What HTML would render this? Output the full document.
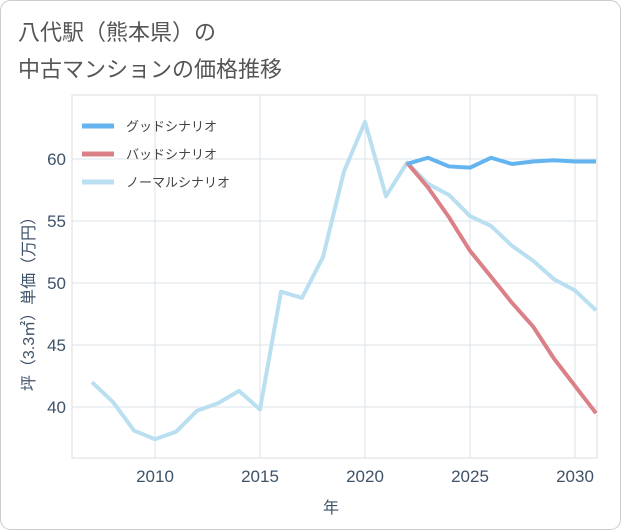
<!DOCTYPE html>
<html><head><meta charset="utf-8"><style>
body{margin:0;background:#fff;}
svg{display:block;font-family:"Liberation Sans","Noto Sans CJK JP",sans-serif;}
</style></head><body>
<svg id="c" width="621" height="530" viewBox="0 0 621 530">
<rect x="0.5" y="0.5" width="620" height="529" rx="10" fill="#fff" stroke="#ccc"/>
<text x="18" y="40" font-size="22" fill="#555">八代駅（熊本県）の</text>
<text x="18" y="77" font-size="22" fill="#555">中古マンションの価格推移</text>
<g id="grid"></g>
<g id="lines"></g>
<g id="legend"></g>
<text x="331" y="513" font-size="16" fill="#3e5268" text-anchor="middle">年</text>
<text transform="translate(34,300) rotate(-90)" font-size="16" fill="#3e5268" text-anchor="middle">坪（3.3㎡）単価（万円）</text>
</svg>
<script>
const years=[2007,2008,2009,2010,2011,2012,2013,2014,2015,2016,2017,2018,2019,2020,2021,2022,2023,2024,2025,2026,2027,2028,2029,2030,2031];
const normal=[42.0,40.4,38.1,37.4,38.0,39.7,40.3,41.3,39.8,49.3,48.8,52.1,59.0,63.0,57.0,59.7,58.0,57.1,55.4,54.6,53.0,51.8,50.3,49.4,47.8];
const goodYears=[2022,2023,2024,2025,2026,2027,2028,2029,2030,2031];
const good=[59.6,60.1,59.4,59.3,60.1,59.6,59.8,59.9,59.8,59.8];
const bad=[59.7,57.7,55.3,52.6,50.5,48.4,46.5,43.9,41.7,39.5];
const xTicks=[2010,2015,2020,2025,2030];
const yTicks=[40,45,50,55,60];
const NS='http://www.w3.org/2000/svg';
const L=72,R=597,T=95,B=458;
const x=v=>155+(v-2010)*21;
const y=v=>159+(60-v)*12.4;
function mk(t,a,p){const e=document.createElementNS(NS,t);for(const k in a)e.setAttribute(k,a[k]);p.appendChild(e);return e;}
const g=document.getElementById('grid');
mk('rect',{x:L,y:T,width:R-L,height:B-T,fill:'none',stroke:'#ddd'},g);
xTicks.forEach(v=>{
 const l=mk('line',{x1:x(v),x2:x(v),y1:T,y2:B,stroke:'#dde3ea'},g);
 
 
 const t=mk('text',{x:x(v),y:482,'font-size':17,fill:'#3e5268','text-anchor':'middle'},g);t.textContent=v;
 
 
});
yTicks.forEach(v=>{
 const l=mk('line',{x1:L,x2:R,y1:y(v),y2:y(v),stroke:'#dde3ea'},g);
 
 
 const t=mk('text',{x:66,y:y(v)+6,'font-size':17,fill:'#3e5268','text-anchor':'end'},g);t.textContent=v;
 
 
});
const lg=document.getElementById('lines');
function series(xs,vs,color,name){
 const p=mk('polyline',{points:xs.map((yr,i)=>x(yr)+','+y(vs[i])).join(' '),fill:'none',stroke:color,'stroke-width':4,'stroke-linejoin':'round'},lg);
 
 
}
series(years,normal,'#b9dff0','normal-scenario-line');
series(goodYears,bad,'#dc8088','bad-scenario-line');
series(goodYears,good,'#64b5ef','good-scenario-line');
const leg=document.getElementById('legend');
[['グッドシナリオ','#64b5ef'],['バッドシナリオ','#dc8088'],['ノーマルシナリオ','#b9dff0']].forEach((d,i)=>{
 const yy=126+i*28;
 const l=mk('line',{x1:82,x2:114,y1:yy,y2:yy,stroke:d[1],'stroke-width':5},leg);
 
 
 const t=mk('text',{x:126,y:yy+5,'font-size':13,fill:'#444'},leg);t.textContent=d[0];
 
 
});
</script>
</body></html>
